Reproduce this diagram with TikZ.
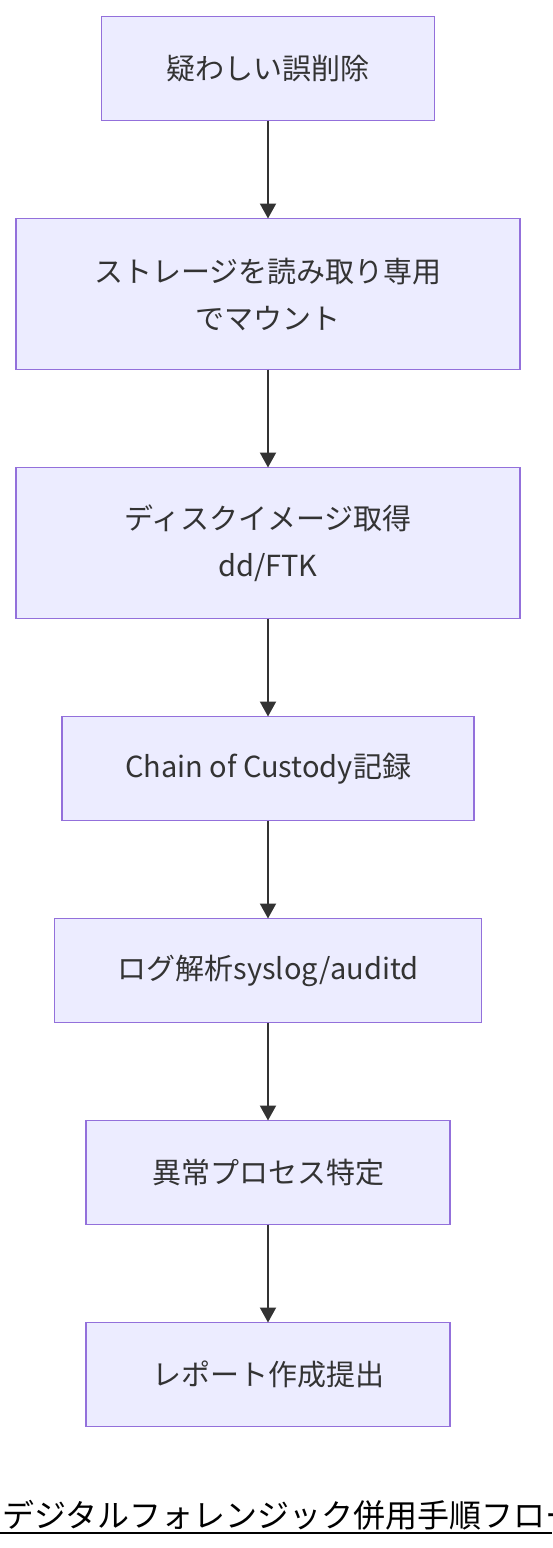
\documentclass[tikz,border=0pt]{standalone}
\usepackage{fontspec}
\setmainfont{Noto Sans CJK JP}
\usetikzlibrary{arrows.meta,
                chains,
                positioning}
\definecolor{boxfill}{HTML}{ECECFF}
\definecolor{boxline}{HTML}{9370DB}
\definecolor{ink}{HTML}{333333}

\begin{document}
\begin{tikzpicture}[x=1pt, y=1pt,
node distance = 98pt,
  start chain = A going below,
   box/.style = {rectangle, draw=boxline, line width=1.5pt, fill=boxfill,
                 text=ink, align=center, inner sep=0pt, outer sep=0pt,
                 minimum height=104pt,
                 font=\fontsize{29}{47}\selectfont,
                 on chain},
   arr/.style = {draw=ink, line width=2pt,
                 -{Triangle[length=15pt, width=16pt]}},
                        ]
\useasboundingbox (0,0) rectangle (552,-1548);
    \begin{scope}[every node/.append style={box}]
\node[minimum width=333pt, anchor=north] at (268,-16.5) {疑わしい誤削除};
\node[minimum width=504pt, minimum height=151pt] {ストレージを読み取り専用\\でマウント};
\node[minimum width=504pt, minimum height=151pt] {ディスクイメージ取得\\dd/FTK};
\node[minimum width=412pt] {Chain of Custody記録};
\node[minimum width=427pt] {ログ解析syslog/auditd};
\node[minimum width=364pt] {異常プロセス特定};
\node[minimum width=364pt] {レポート作成提出};
    \end{scope}
\foreach \i [count=\j from 2] in {1,...,6}
    \draw[arr] (A-\i) -- (A-\j);
% title, runs past the right edge
\node[anchor=base west, inner sep=0pt, font=\fontsize{32}{38}\selectfont]
    (title) at (2,-1527) {デジタルフォレンジック併用手順フロー};
\draw[line width=2pt] (0,-1533) -- (552,-1533);
\end{tikzpicture}
\end{document}
